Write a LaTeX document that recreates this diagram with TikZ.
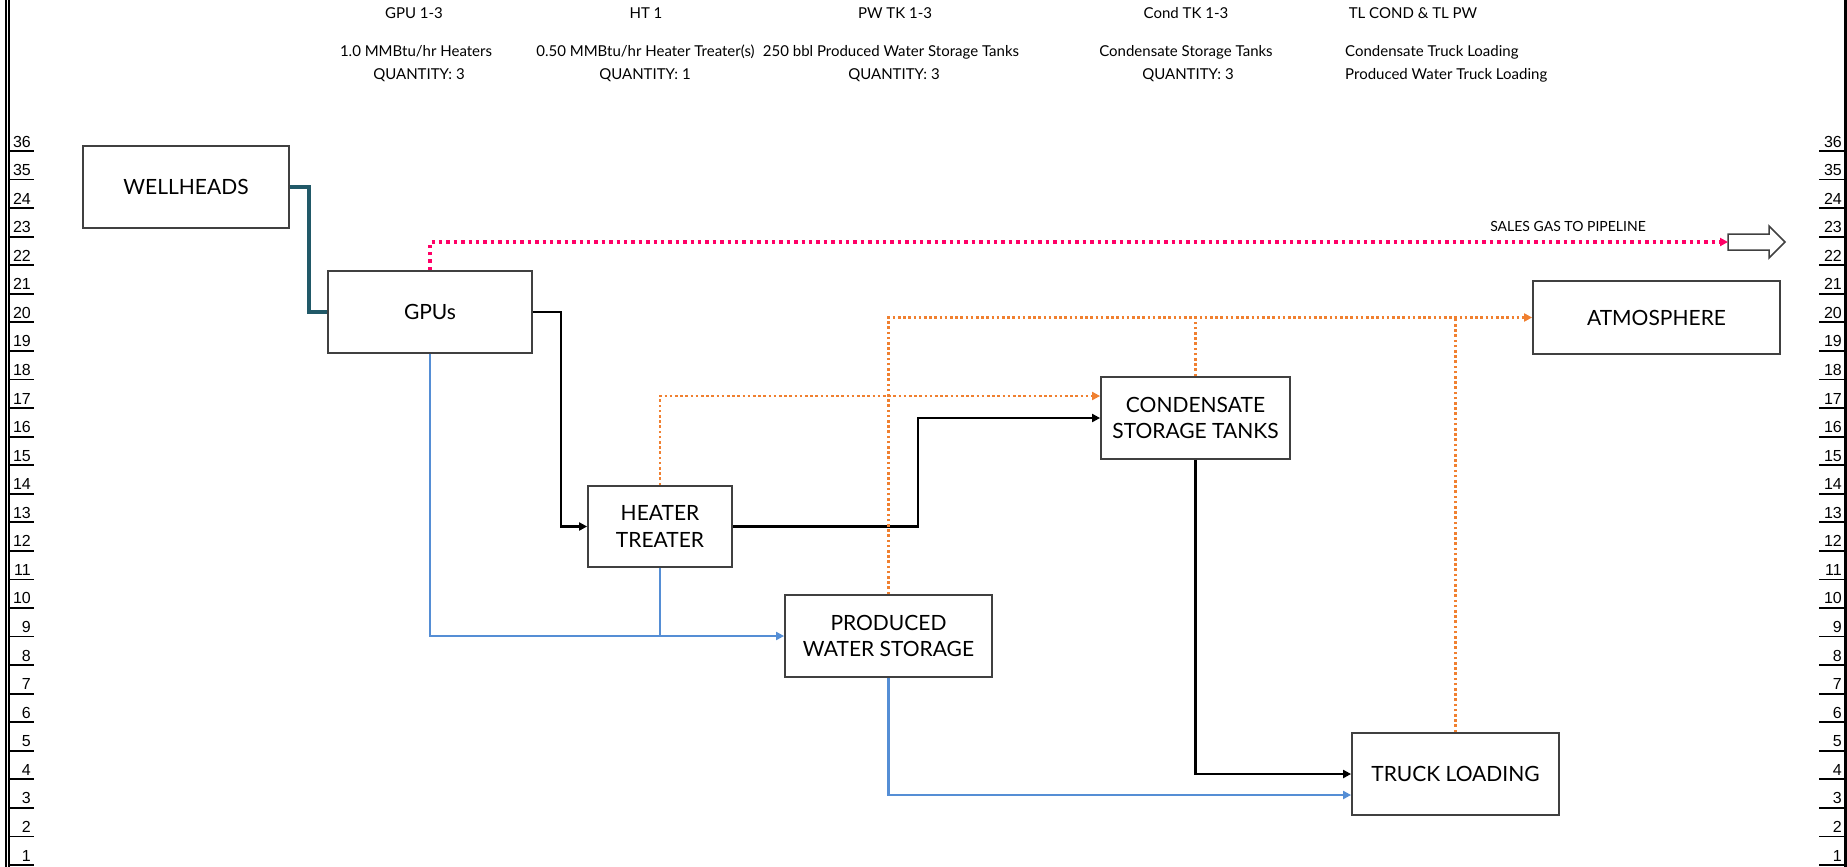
\documentclass[tikz,border=0pt]{standalone}
\usepackage{fontspec}
\setmainfont{Lato}
\newfontfamily\rowfont{Liberation Sans}
\usepackage{xcolor}
\usetikzlibrary{arrows.meta, positioning, calc}
\definecolor{wellteal}{RGB}{33,89,104}
\definecolor{gaspink}{RGB}{255,0,102}
\definecolor{ventorange}{RGB}{240,128,48}
\definecolor{waterblue}{RGB}{85,142,213}
\definecolor{boxgray}{RGB}{64,64,64}
\tikzset{
  >={Triangle[length=8pt,width=8pt]}, % small solid heads
  unit/.style={draw=boxgray, line width=1.8pt, fill=white, minimum height=82pt,
    align=center, inner sep=2pt, font=\fontsize{21}{26.5}\selectfont}, % process boxes
  head/.style={anchor=base, inner sep=0pt, font=\fontsize{15}{18}\selectfont}, % top notes
  rownum/.style={inner sep=0pt, font=\rowfont\fontsize{16}{18}\selectfont},
  tick/.style={line width=1.8pt},
  liquid/.style={->, line width=2.4pt},
  feed/.style={line width=3.4pt, wellteal},
  water/.style={->, line width=2.4pt, waterblue},
  vent/.style={line width=2.4pt, ventorange, dash pattern=on 2.6pt off 2.6pt},
  sales/.style={->, line width=3.4pt, gaspink, dash pattern=on 3.4pt off 4pt},
}

\begin{document}
\begin{tikzpicture}[x=1pt, y=-1pt]
  \useasboundingbox (0,0) rectangle (1847,867);

  % sheet frame and row numbers
  \draw[line width=2pt] (5.5,0) -- (5.5,867) (9,0) -- (9,867);
  \draw[line width=2.7pt] (1845.5,0) -- (1845.5,867);
  \foreach \lab [count=\k from 0] in {36,35,24,23,22,21,20,19,18,17,16,15,14,13,12,11,10,9,8,7,6,5,4,3,2,1} {
    \pgfmathsetmacro\yy{151+\k*28.56}
    \draw[tick] (9,\yy) -- (34,\yy) (1819,\yy) -- (1845,\yy);
    \node[rownum, anchor=base east] (lnum\k) at (31,\yy-4) {\lab};
    \node[rownum, anchor=base east] (rnum\k) at (1842,\yy-4) {\lab};
  }

  % equipment notes
  \node[head] (gpuid) at (414,18.5) {GPU 1-3};
  \node[head] (gpudesc) at (416,57) {1.0 MMBtu/hr Heaters};
  \node[head] (gpuqty) at (419,80) {QUANTITY: 3};
  \node[head] (htid) at (646,18.5) {HT 1};
  \node[head] (htdesc) at (645.5,57) {0.50 MMBtu/hr Heater Treater(s)};
  \node[head] (htqty) at (645,80) {QUANTITY: 1};
  \node[head] (pwid) at (895,18.5) {PW TK 1-3};
  \node[head] (pwdesc) at (891,57) {250 bbl Produced Water Storage Tanks};
  \node[head] (pwqty) at (894,80) {QUANTITY: 3};
  \node[head] (condid) at (1186,18.5) {Cond TK 1-3};
  \node[head] (conddesc) at (1186,57) {Condensate Storage Tanks};
  \node[head] (condqty) at (1188,80) {QUANTITY: 3};
  \node[head] (tlid) at (1413,18.5) {TL COND \& TL PW};
  \node[head, anchor=base west] (tlcond) at (1345,57) {Condensate Truck Loading};
  \node[head, anchor=base west] (tlpw) at (1345,80) {Produced Water Truck Loading};

  % process units
  \node[unit, minimum width=206pt] (wells) at (186,187) {WELLHEADS};
  \node[unit, minimum width=204pt] (gpu) at (430,312) {GPUs};
  \node[unit, minimum width=144pt, minimum height=81pt] (ht) at (660,526.5) {HEATER\\TREATER};
  \node[unit, minimum width=207pt] (pws) at (888.5,636) {PRODUCED\\WATER STORAGE};
  \node[unit, minimum width=189pt] (cond) at (1195.5,418) {CONDENSATE\\STORAGE TANKS};
  \node[unit, minimum width=207pt] (truck) at (1455.5,774) {TRUCK LOADING};
  \node[unit, minimum width=247pt, minimum height=73pt] (atm) at (1656.5,317.5) {ATMOSPHERE};

  % pipeline outlet
  \draw[boxgray, line width=1.5pt, fill=white]
    (1728,234) -- (1769,234) -- (1769,226) -- (1785,242) -- (1769,258) -- (1769,250) -- (1728,250) -- cycle;
  \coordinate (pipe) at (1728,242);
  \node[head, font=\fontsize{14}{17}\selectfont] (salesgas) at (1568,231) {SALES GAS TO PIPELINE};

  % streams
  \draw[feed] (wells.east) -- ++(19,0) |- (gpu.west);
  \draw[sales] (gpu.north) |- (pipe);
  \draw[liquid] (gpu.east) -- ++(28,0) |- (ht.west);
  \draw[liquid] (ht.east) -- ++(185,0) |- (cond.west);
  \draw[liquid] (cond.south) |- (truck.west);
  \draw[water] (gpu.south) |- (pws.west);
  \draw[water, -] (ht.south) -- (ht.south |- pws.west);
  \draw[water] (pws.south) |- ($(truck.west)+(0,21)$);
  \draw[vent, ->] (ht.north) |- ($(cond.west)+(0,-22)$);
  \draw[vent, ->] (pws.north) |- (atm.west);
  \draw[vent] (cond.north) -- (cond.north |- atm.west);
  \draw[vent] (truck.north) -- (truck.north |- atm.west);
\end{tikzpicture}
\end{document}
